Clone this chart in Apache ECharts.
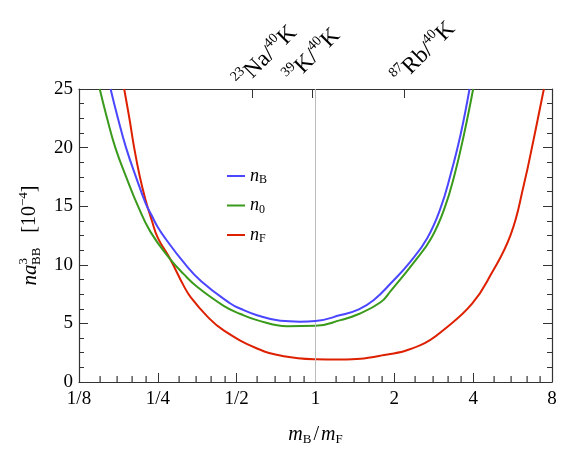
<!DOCTYPE html>
<html><head><meta charset="utf-8">
<script src="https://cdn.jsdelivr.net/npm/echarts@6/dist/echarts.min.js"></script>
<style>html,body{margin:0;padding:0;background:#fff}#c{width:585px;height:458px}</style>
</head><body><div id="c"></div>
<script>
// ---- axis ticks / labels ----
const xTicks = [0.125, 0.25, 0.5, 1, 2, 4, 8];
const xTickLabels = ['1/8', '1/4', '1/2', '1', '2', '4', '8'];
const minorFactors = [1.2, 1.4, 1.6, 1.8];
const topTicks = [23 / 40, 39 / 40, 87 / 40];
const topLabelParts = [['23', 'Na', '40', 'K'], ['39', 'K', '40', 'K'], ['87', 'Rb', '40', 'K']];

// ---- series (mass ratio mB/mF, n a_BB^3 in units of 1e-4) ----
const nB_x = [0.165, 0.176, 0.189, 0.207, 0.225, 0.237, 0.25, 0.268, 0.314, 0.366, 0.473, 0.517, 0.598, 0.735, 0.871, 1, 1.246, 1.464, 1.670, 1.935, 2.305, 2.670, 3.002, 3.278, 3.580, 3.874];
const nB_y = [25, 22.5, 20, 17.4, 15.2, 14.2, 13.2, 12.2, 10.2, 8.6, 6.7, 6.25, 5.7, 5.22, 5.15, 5.2, 5.71, 6.2, 7.0, 8.4, 10.27, 12.27, 14.83, 17.68, 21.1, 25];

const n0_x = [0.150, 0.160, 0.172, 0.190, 0.210, 0.234, 0.277, 0.314, 0.354, 0.446, 0.517, 0.598, 0.779, 1, 1.246, 1.464, 1.772, 1.935, 2.388, 2.766, 3.110, 3.396, 3.688, 4.0];
const n0_y = [25, 22.5, 20, 17.4, 15.0, 12.83, 10.55, 9.2, 8.1, 6.5, 5.8, 5.28, 4.76, 4.79, 5.28, 5.8, 6.8, 7.75, 10.27, 12.27, 14.83, 17.68, 21.1, 25];

const nF_x = [0.186, 0.195, 0.203, 0.213, 0.224, 0.237, 0.25, 0.277, 0.314, 0.333, 0.386, 0.446, 0.598, 0.757, 1, 1.246, 1.772, 2.517, 3.184, 3.970, 4.662, 5.560, 6.246, 6.821, 7.448];
const nF_y = [25, 22.4, 20, 17.6, 15.6, 13.8, 12.3, 10.6, 8.2, 7.27, 5.6, 4.4, 2.86, 2.2, 1.94, 1.91, 2.25, 3.14, 4.7, 6.7, 9.13, 12.55, 16.83, 20.8, 25];

const seriesNames = ['nB', 'n0', 'nF'];
const seriesSub = ['B', '0', 'F'];
const seriesColors = ['#4b46ff', '#3a9a1c', '#dd2000'];

const FONT = "'Liberation Serif', 'DejaVu Serif', serif";
const AX = '#333';
// placement of the rotated top labels relative to their tick (style only)
const topLabelShift = [[12, -33], [-1, -34], [19, -37]];

const minorTicks = [];
xTicks.slice(0, -1).forEach(b => minorFactors.forEach(f => minorTicks.push(+(b * f).toFixed(4))));
const pair = (xs, ys) => xs.map((x, i) => [x, ys[i]]);

const chart = echarts.init(document.getElementById('c'), null, { renderer: 'canvas' });

const logAxisBase = {
  type: 'log', logBase: 2, min: 0.125, max: 8,
  splitLine: { show: false }, minorSplitLine: { show: false }
};

const curveSeries = [
  { name: 'nB', data: pair(nB_x, nB_y), color: seriesColors[0] },
  { name: 'n0', data: pair(n0_x, n0_y), color: seriesColors[1] },
  { name: 'nF', data: pair(nF_x, nF_y), color: seriesColors[2] }
].map((s, k) => Object.assign({
  type: 'line', xAxisIndex: 0, yAxisIndex: 0, showSymbol: false, symbol: 'none',
  smooth: 0.45, clip: true,
  lineStyle: { width: 2, color: s.color }, itemStyle: { color: s.color }, z: 5 - k
}, s, k === 0 ? {
  markLine: {
    silent: true, symbol: ['none', 'none'], label: { show: false },
    lineStyle: { color: '#bbb', width: 1, type: 'solid' }, data: [{ xAxis: 1 }]
  }
} : {}));

// minor ticks of the bottom axis, placed through the axis scale
const minorTickSeries = {
  type: 'custom', coordinateSystem: 'cartesian2d', xAxisIndex: 0, yAxisIndex: 0, z: 6,
  data: minorTicks.map(v => [v, 0]),
  renderItem: function (params, api) {
    const p = api.coord([api.value(0), api.value(1)]);
    return { type: 'rect', shape: { x: Math.round(p[0]) - 0.5, y: p[1] - 6, width: 1.2, height: 6 }, style: { fill: AX } };
  }
};

// rotated isotope labels above the top axis
const topLabelRich = {
  m: { fontFamily: FONT, fontSize: 23, lineHeight: 26, fill: '#000', verticalAlign: 'bottom' },
  sup: { fontFamily: FONT, fontSize: 14, lineHeight: 14, fill: '#000', verticalAlign: 'top' }
};
const topLabelSeries = {
  type: 'custom', coordinateSystem: 'cartesian2d', xAxisIndex: 0, yAxisIndex: 0, z: 6, clip: false,
  data: topTicks.map(v => [v, 25]),
  renderItem: function (params, api) {
    const i = params.dataIndex;
    const p = api.coord([api.value(0), api.value(1)]);
    const t = topLabelParts[i];
    return {
      type: 'text',
      x: p[0] + topLabelShift[i][0], y: p[1] + topLabelShift[i][1],
      rotation: Math.PI / 4,
      style: {
        text: '{sup|' + t[0] + '}{m|' + t[1] + '/}{sup|' + t[2] + '}{m|' + t[3] + '}',
        rich: topLabelRich, align: 'center', verticalAlign: 'middle', fill: '#000'
      }
    };
  }
};

const option = {
  animation: false, backgroundColor: '#fff',
  grid: { left: 79, right: 33, top: 89, bottom: 76 },
  legend: {
    orient: 'vertical', left: 222, top: 162, itemWidth: 18, itemHeight: 2, itemGap: 10.5, icon: 'rect',
    data: seriesNames,
    formatter: name => '{i|n}{s|' + seriesSub[seriesNames.indexOf(name)] + '}',
    textStyle: { rich: {
      i: { fontFamily: FONT, fontStyle: 'italic', fontSize: 18, lineHeight: 20, color: '#000', verticalAlign: 'middle' },
      s: { fontFamily: FONT, fontSize: 12, lineHeight: 12, color: '#000', verticalAlign: 'bottom' } } }
  },
  xAxis: [
    Object.assign({}, logAxisBase, {
      position: 'bottom',
      axisLine: { show: true, onZero: false, lineStyle: { color: AX, width: 1.2 } },
      axisTick: { show: true, inside: true, length: 9, lineStyle: { color: AX } },
      axisLabel: {
        show: true, margin: 8, color: '#000', fontFamily: FONT, fontSize: 19,
        formatter: v => { const i = xTicks.findIndex(t => Math.abs(t - v) < 1e-6); return i >= 0 ? xTickLabels[i] : ''; }
      },
      name: '{i|m}{s|B}{t|/}{i|m}{s|F}', nameLocation: 'middle', nameGap: 42,
      nameTextStyle: { rich: {
        i: { fontFamily: FONT, fontStyle: 'italic', fontSize: 20, lineHeight: 22, color: '#000', verticalAlign: 'middle' },
        s: { fontFamily: FONT, fontSize: 13, lineHeight: 13, color: '#000', verticalAlign: 'bottom' },
        t: { fontFamily: FONT, fontSize: 20, lineHeight: 22, color: '#000', verticalAlign: 'middle', padding: [0, 2, 0, 2] } } }
    }),
    Object.assign({}, logAxisBase, {
      position: 'top',
      axisLine: { show: true, onZero: false, lineStyle: { color: AX, width: 1.2 } },
      axisTick: { show: true, inside: true, length: 9, customValues: topTicks, lineStyle: { color: AX } },
      axisLabel: { show: false }
    })
  ],
  yAxis: [
    {
      type: 'value', min: 0, max: 25, interval: 5, position: 'left', splitLine: { show: false },
      axisLine: { show: true, onZero: false, lineStyle: { color: AX, width: 1.2 } },
      axisTick: { show: true, inside: true, length: 9, lineStyle: { color: AX } },
      minorTick: { show: true, splitNumber: 4, length: 5, lineStyle: { color: AX } },
      axisLabel: { color: '#000', fontFamily: FONT, fontSize: 19, margin: 6 },
      name: '{i|na}{sup|3}{sub|BB}{t|   [10}{sup|−4}{t|]}', nameLocation: 'middle', nameRotate: 90, nameGap: 36,
      nameTextStyle: { rich: {
        i: { fontFamily: FONT, fontStyle: 'italic', fontSize: 21, lineHeight: 26, color: '#000', verticalAlign: 'middle' },
        t: { fontFamily: FONT, fontSize: 20, lineHeight: 26, color: '#000', verticalAlign: 'middle' },
        sup: { fontFamily: FONT, fontSize: 13, lineHeight: 13, color: '#000', verticalAlign: 'top' },
        sub: { fontFamily: FONT, fontSize: 13, lineHeight: 13, color: '#000', verticalAlign: 'bottom', padding: [0, 0, 0, -7] } } }
    },
    {
      type: 'value', min: 0, max: 25, interval: 5, position: 'right', splitLine: { show: false },
      axisLine: { show: true, onZero: false, lineStyle: { color: AX, width: 1.2 } },
      axisTick: { show: true, inside: true, length: 9, lineStyle: { color: AX } },
      minorTick: { show: true, splitNumber: 4, length: 5, lineStyle: { color: AX } },
      axisLabel: { show: false }
    }
  ],
  series: curveSeries.concat([minorTickSeries, topLabelSeries])
};
chart.setOption(option);
</script>
</body></html>
